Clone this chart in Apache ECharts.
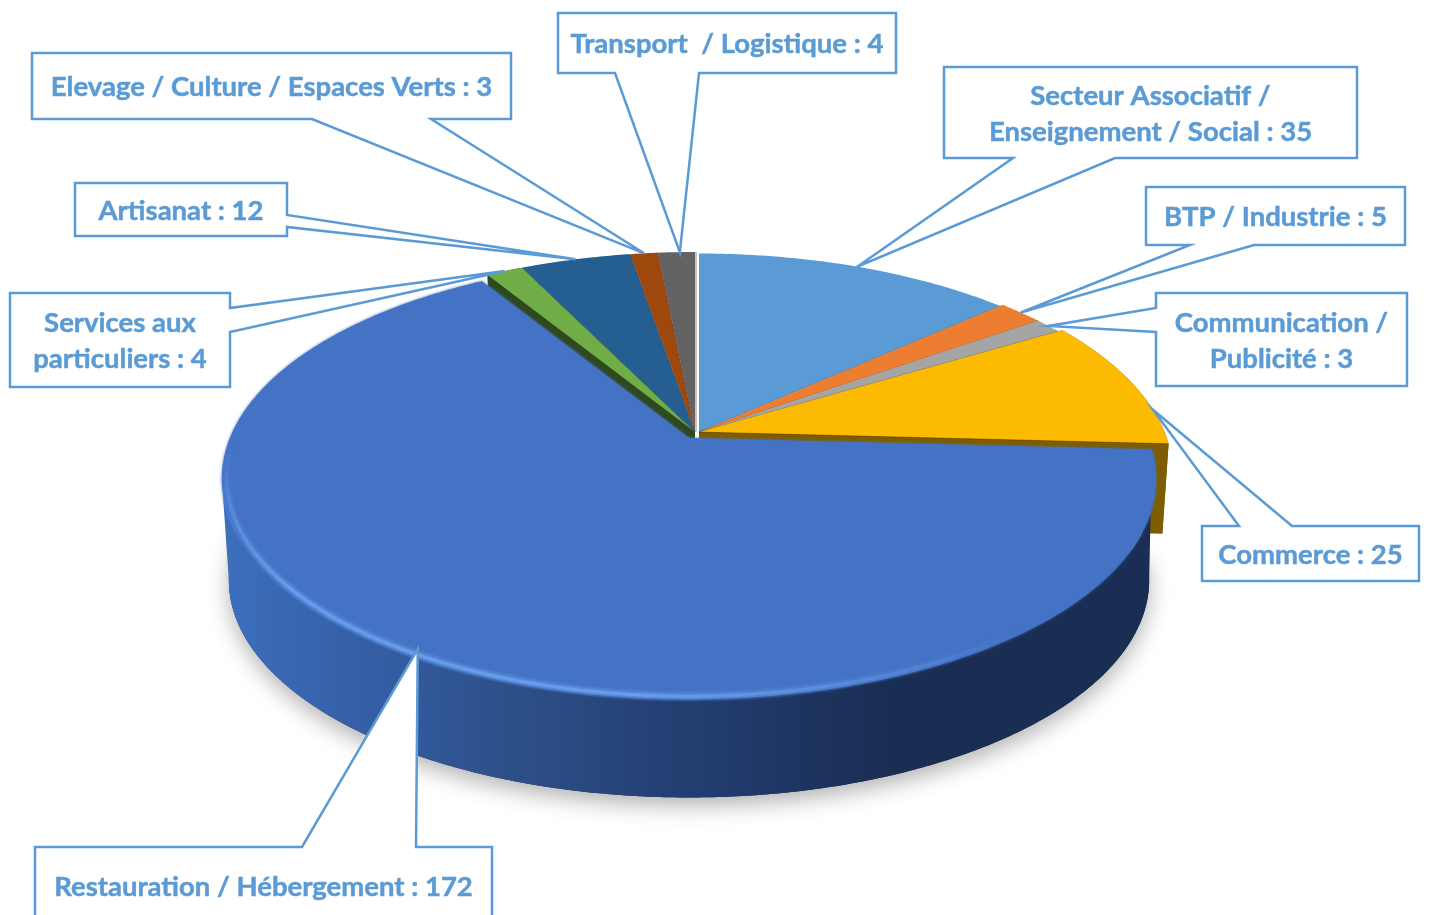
<!DOCTYPE html>
<html>
<head>
<meta charset="utf-8">
<title>Secteurs d'activité</title>
<script src="https://cdn.jsdelivr.net/npm/echarts@6/dist/echarts.min.js"></script>
<style>
  html, body { margin: 0; padding: 0; background: #fff; }
  #chart { width: 1429px; height: 915px; }
</style>
</head>
<body>
<div id="chart"></div>
<script>
  // data, clockwise from 12 o'clock
  const categories = [
    'Secteur Associatif /\nEnseignement / Social',
    'BTP / Industrie',
    'Communication /\nPublicité',
    'Commerce',
    'Restauration / Hébergement',
    'Services aux\nparticuliers',
    'Artisanat',
    'Elevage / Culture / Espaces Verts',
    'Transport  / Logistique'
  ]
  const values = [35, 5, 3, 25, 172, 4, 12, 3, 4]
  const colors = ['#5b9bd5', '#ed7d31', '#a5a5a5', '#fcba00', '#4472c4', '#70ad47', '#255e91', '#9e480e', '#636363']

  // slices are pulled apart a little, this is the apex and radius of each one
  const apexes = [[699, 432], [699, 432], [699, 432], [699, 432], [689, 438], [695, 432], [695, 432], [695, 432], [695, 432]]
  const radii = [0.99, 1, 1, 1.012, 0.998, 1, 1, 1, 1]

  // callout boxes [x0, y0, x1, y1], tail side and where the tail leaves the box
  const boxes = [
    { rect: [944, 67, 1357, 158], side: 'bottom', base: [1013, 1115] },
    { rect: [1146, 187, 1405, 245], side: 'bottom', base: [1190, 1254] },
    { rect: [1156, 293, 1407, 386], side: 'left', base: [308, 332] },
    { rect: [1202, 526, 1419, 581], side: 'top', base: [1239, 1292], shift: 8 },
    { rect: [35, 847, 492, 935], side: 'top', base: [302, 416], radius: 0.975 },
    { rect: [10, 293, 230, 387], side: 'right', base: [308, 332] },
    { rect: [75, 183, 287, 236], side: 'right', base: [215, 227] },
    { rect: [32, 53, 511, 119], side: 'bottom', base: [312, 431] },
    { rect: [558, 13, 896, 73], side: 'bottom', base: [615, 699], shift: 0.5 }
  ]

  const textColor = '#5b9bd5'
  const total = values.reduce((a, b) => a + b, 0)
  const mainIndex = values.indexOf(Math.max(...values))

  // slice start / end in degrees
  const angles = []
  values.reduce((sum, v) => {
    angles.push([sum / total * 360, (sum + v) / total * 360])
    return sum + v
  }, 0)

  // perspective of the pie plane
  const A = 460
  const B = 213.4
  const P = 0.1856
  const DEPTH = 102
  const SHRINK = 0.015 // floor is further away, so a bit smaller
  const SIDE_DEPTH = 90
  const LEFT_EXTREME = 360 - Math.acos(-P) * 180 / Math.PI
  const RIGHT_EXTREME = Math.acos(-P) * 180 / Math.PI

  function project(apex, deg, r = 1, depth = 0) {
    const t = deg * Math.PI / 180
    const x = Math.sin(t) * r
    const y = Math.cos(t) * r
    const w = 1 + P * y
    const k = 1 - SHRINK * depth / DEPTH
    return [apex[0] + k * A * x / w, apex[1] + depth - k * B * y / w]
  }

  function arc(apex, from, to, depth = 0, r = 1) {
    const pts = []
    const n = Math.max(2, Math.ceil(Math.abs(to - from) * 2))
    for (let i = 0; i <= n; i++) pts.push(project(apex, from + (to - from) * i / n, r, depth))
    return pts
  }

  function darken(hex, k) {
    const n = parseInt(hex.slice(1), 16)
    const c = [(n >> 16) & 255, (n >> 8) & 255, n & 255].map(v => Math.round(v * k))
    return `rgb(${c.join(',')})`
  }

  const topFace = (i) => [apexes[i], ...arc(apexes[i], angles[i][0], angles[i][1], 0, radii[i])]
  const floorFace = (i, depth) => [[apexes[i][0], apexes[i][1] + depth], ...arc(apexes[i], angles[i][0], angles[i][1], depth, radii[i])]
  const empty = { type: 'group', children: [] }

  // only the slices next to the big one show a cut face
  function renderSmallWall(params) {
    const i = params.dataIndex
    if (Math.abs(i - mainIndex) !== 1) return empty
    const apex = apexes[i]
    const fill = darken(colors[i], i === 3 ? 0.5 : 0.42)
    const outer = [...arc(apex, angles[i][0], angles[i][1], 0, radii[i]), ...arc(apex, angles[i][1], angles[i][0], SIDE_DEPTH, radii[i])]
    const floorApex = [apex[0], apex[1] + SIDE_DEPTH]
    const cuts = angles[i].map(deg => [apex, project(apex, deg, radii[i]), project(apex, deg, radii[i], SIDE_DEPTH), floorApex])
    return { type: 'group', children: [
      { type: 'polygon', shape: { points: floorFace(i, SIDE_DEPTH) }, style: { fill } },
      { type: 'polygon', shape: { points: outer }, style: { fill } },
      ...cuts.map(points => ({ type: 'polygon', shape: { points }, style: { fill } }))
    ] }
  }

  function renderSmallTop(params) {
    const i = params.dataIndex
    if (i === mainIndex) return empty
    const apex = apexes[i]
    const last = i === values.length - 1
    const edge = last
      ? { points: [[apex[0] + 1, project(apex, 0)[1]], [apex[0] + 1, apex[1]]], stroke: '#c4c4c4', lineWidth: 2 }
      : { points: [project(apex, angles[i][1], radii[i]), apex], stroke: 'rgba(0,0,0,0.3)', lineWidth: 1 }
    return { type: 'group', children: [
      { type: 'polygon', shape: { points: topFace(i) }, style: { fill: colors[i] } },
      { type: 'polyline', shape: { points: edge.points }, style: { stroke: edge.stroke, lineWidth: edge.lineWidth, fill: 'none' } }
    ] }
  }

  function renderMainWall() {
    const i = mainIndex
    const apex = apexes[i]
    const r = radii[i]
    const wallFill = new echarts.graphic.LinearGradient(0, 0, 1, 0, [
      { offset: 0, color: '#3c6fbd' },
      { offset: 0.2, color: '#335a9e' },
      { offset: 0.3, color: '#2e5089' },
      { offset: 0.55, color: '#203a6b' },
      { offset: 0.72, color: '#1a2d52' },
      { offset: 1, color: '#1a2d52' }
    ])
    const front = [...arc(apex, angles[i][0], LEFT_EXTREME, 0, r), ...arc(apex, LEFT_EXTREME, RIGHT_EXTREME, DEPTH, r)]
    return { type: 'group', children: [
      { type: 'polygon', shape: { points: floorFace(i, DEPTH) }, style: { fill: '#1a2d52', shadowBlur: 22, shadowColor: 'rgba(0,0,0,0.3)', shadowOffsetY: 8 } },
      { type: 'polygon', shape: { points: front }, style: { fill: wallFill } }
    ] }
  }

  // light rim on the front edge, strongest around the lower left
  function rimStrokes(apex, r) {
    const from = 140
    const to = 268
    const passes = [[10, 0.18], [6, 0.28], [3, 0.55]]
    const out = []
    passes.forEach(([lineWidth, opacity]) => {
      for (let d = from; d < to; d += 1.5) {
        const u = (d - from) / (to - from)
        const env = Math.min(1, u / 0.35) * Math.min(1, (1 - u) / 0.3)
        out.push({
          type: 'polyline',
          shape: { points: arc(apex, d, d + 1.5, 0, r * 0.99) },
          style: { stroke: '#75adfa', lineWidth, fill: 'none', opacity: opacity * env }
        })
      }
    })
    return out
  }

  function renderMainTop() {
    const i = mainIndex
    return { type: 'group', children: [
      { type: 'polygon', shape: { points: topFace(i) }, style: { fill: colors[i], shadowBlur: 3, shadowColor: colors[i] } },
      ...rimStrokes(apexes[i], radii[i])
    ] }
  }

  function calloutPoints(i) {
    const { rect, side, base, shift = 0, radius = 1 } = boxes[i]
    const [x0, y0, x1, y1] = rect
    const tip = project(apexes[i], (angles[i][0] + angles[i][1]) / 2 + shift, radius * radii[i])
    if (side === 'bottom') return [[x0, y0], [x1, y0], [x1, y1], [base[1], y1], tip, [base[0], y1], [x0, y1]]
    if (side === 'top') return [[x0, y0], [base[0], y0], tip, [base[1], y0], [x1, y0], [x1, y1], [x0, y1]]
    if (side === 'left') return [[x0, y0], [x1, y0], [x1, y1], [x0, y1], [x0, base[1]], tip, [x0, base[0]]]
    return [[x0, y0], [x1, y0], [x1, base[0]], tip, [x1, base[1]], [x1, y1], [x0, y1]]
  }

  function renderCallout(params) {
    const i = params.dataIndex
    const [x0, y0, x1, y1] = boxes[i].rect
    const textY = i === mainIndex ? 887 : (y0 + y1) / 2 + 1.5
    return { type: 'group', children: [
      { type: 'polygon', shape: { points: calloutPoints(i) }, style: { fill: '#fff', stroke: textColor, lineWidth: 2.5 } },
      { type: 'text', style: {
        text: `${categories[i]} : ${values[i]}`,
        x: (x0 + x1) / 2, y: textY, align: 'center', verticalAlign: 'middle',
        fontFamily: 'Lato', fontWeight: 'bold', fontSize: 27.5, lineHeight: 36, fill: textColor,
        stroke: textColor, lineWidth: 0.5
      } }
    ] }
  }

  const sliceData = values.map((v, i) => ({ name: categories[i], value: v }))
  const layer = (z, renderItem) => ({
    type: 'custom', coordinateSystem: 'none', z, silent: true, clip: false,
    data: sliceData, renderItem
  })
  const once = (fn) => (params) => params.dataIndex === 0 ? fn() : empty

  const chart = echarts.init(document.getElementById('chart'))
  chart.setOption({
    backgroundColor: '#fff',
    animation: false,
    series: [
      layer(1, renderSmallWall),
      layer(2, renderSmallTop),
      layer(3, once(renderMainWall)),
      layer(4, once(renderMainTop)),
      layer(5, renderCallout)
    ]
  })
</script>
</body>
</html>
